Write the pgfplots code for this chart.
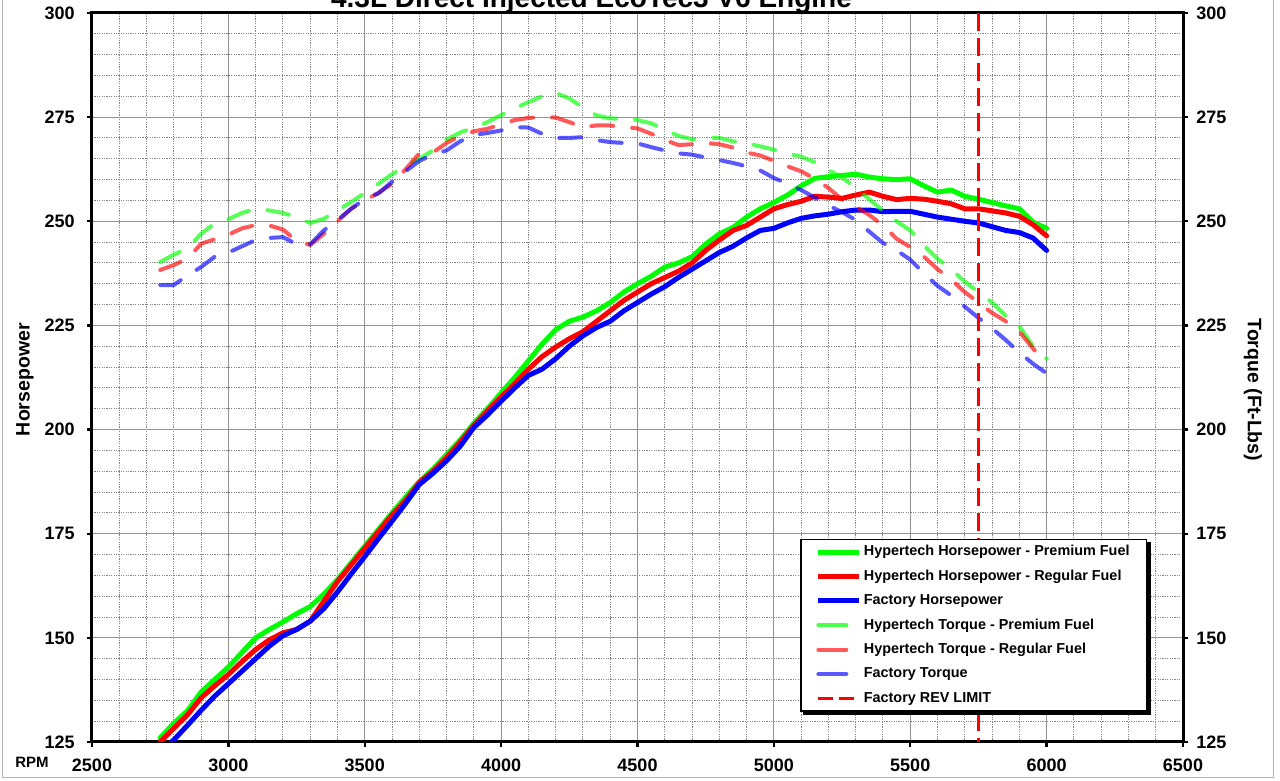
\documentclass[border=0pt]{standalone}
\usepackage{fontspec}
\setmainfont{Liberation Sans}
\usepackage{pgfplots}
\usepackage{pgfplotstable}
\pgfplotsset{compat=1.18}

\definecolor{hpgreen}{RGB}{0,255,0}
\definecolor{hpred}{RGB}{255,0,0}
\definecolor{hpblue}{RGB}{0,0,255}

\pgfplotstableread{
rpm gh rh bh gt rt bt
2750 126 125 122.8 240.2 238.3 234.7
2800 129.5 128.3 125.5 242 239.5 234.7
2850 132.5 131.5 129 243.5 241 237
2900 137 135.6 132.6 247 244.6 239
2950 140 138.5 136 249.5 245.7 241.5
3000 143 141.2 139 250.5 246.8 242.5
3050 146.5 144.3 142 252 248.3 244
3100 150 147.2 145 253 249.1 245.5
3150 152 149.5 148 252.6 249 246
3200 153.8 151.2 150.5 252 248 246.2
3250 155.8 152 152 251 245.3 244.5
3300 157.5 154 154 249.6 244.3 244.5
3350 160.5 158.8 157 250.6 247 247.8
3400 164 163.5 161 252.6 250 250.3
3450 168 167.5 165.3 254.6 253 253
3500 172 171.5 169.5 256.8 255 255.3
3550 176 175.5 173.8 259 256.8 256.7
3600 180 179.5 178 261.3 259 259.5
3650 183.8 183 182.3 263.2 262.5 262
3700 187.5 187.3 186.8 265 266.3 264.5
3750 190.5 190 189.5 267 266.5 266
3800 194 193.3 192.5 269.6 268.8 267
3850 197.5 197 196 271.3 270.5 269.2
3900 201.5 201 200.5 272.5 271.6 270.7
3950 205 204.5 203.5 273.8 272.2 271.2
4000 208.8 207.8 206.8 275.5 273.3 271.8
4050 212.5 211 210 277.1 274.3 272.6
4100 216.5 214.5 213 278.6 274.8 272.5
4150 220.5 217.5 214.5 280 275 271
4200 224 219.8 217 280.8 274.9 270
4250 226 221.8 220 279.5 273.8 270
4300 227 223.5 222.5 277.3 272.6 270.2
4350 228.5 226 224.5 275.4 273 269.5
4400 230.5 228.5 226 274.7 273 269
4450 233 231 228.5 274.6 272.6 268.8
4500 235 233 230.5 274.3 272.3 268.7
4550 236.8 235 232.5 273.5 271 267.8
4600 239 236.5 234.3 272 269.5 267
4650 240 238 236.5 270.5 268.3 266.3
4700 241.5 240 238.5 269.7 268.5 266
4750 244.5 243 240.5 270 268.8 265.3
4800 247 245.5 242.5 270 268.5 264.7
4850 248.5 247.8 244 269.2 267.7 264
4900 251 249 246 268.7 266.5 263.2
4950 253 251 247.8 268 265.8 262.2
5000 254.5 253 248.3 267.2 264.5 260.4
5050 256.3 254 249.6 266.3 263.2 259
5100 258.5 254.8 250.7 265.5 262 257.5
5150 260.3 256 251.3 264.2 260.2 255.7
5200 260.7 255.8 251.7 262.3 258 253.8
5250 261 255.5 252.3 260.5 255.2 252.2
5300 261.3 256.3 252.7 258 253.5 250.3
5350 260.6 257 252.7 255.3 251.5 247.5
5400 260.2 256 252.3 252.5 249 244.8
5450 260 255.2 252.4 250 245.8 243
5500 260.2 255.5 252.4 247.8 243.8 240.8
5550 258.5 255.3 251.7 244.2 241.5 237.5
5600 257 254.8 251 241 238.5 234.5
5650 257.5 254.2 250.5 238.5 236 232.2
5700 256 253 250 235.5 233 229.5
5750 255.3 253 249.6 233 230.5 226.8
5800 254.5 252.5 248.7 230.5 228 224.3
5850 253.7 252 247.8 227.3 226 221.5
5900 253 251.2 247.3 224.8 223.5 218.5
5950 249.8 249.2 246 220 219.5 215.8
6000 248.3 246.5 243 217 215.5 213.5
}\engine

\pgfplotsset{
  hpleg/.style={legend image code/.code={\draw[##1] (0pt,0pt) -- (20.5pt,0pt);}},
  tqleg/.style={legend image code/.code={\draw[##1] (0pt,0pt) -- (14pt,0pt);}},
  revleg/.style={legend image code/.code={\draw[##1] (0pt,0pt) -- (18.5pt,0pt);}},
  hpline/.style={line width=2.5pt, line cap=round, line join=round},
  tqline/.style={line width=2pt, line cap=round, line join=round, dash pattern=on 11pt off 9.5pt, draw opacity=0.65},
}

\begin{document}
\begin{tikzpicture}
\path[use as bounding box] (-46pt,-19.5pt) rectangle (594pt,371pt);
\draw[gray!60, line width=0.5pt] (-44.5pt,-18pt) rectangle (590.5pt,390pt);
\begin{axis}[
  at={(0pt,0pt)}, anchor=south west,
  scale only axis, width=545.5pt, height=364.5pt,
  xmin=2500, xmax=6500, ymin=125, ymax=300,
  xtick={2500,3000,...,6500}, ytick={125,150,...,300},
  minor x tick num=4, minor y tick num=4,
  grid=both,
  major grid style={draw=gray!85, line width=0.55pt},
  minor grid style={draw=gray!95, line width=0.5pt, dash pattern=on 0.6pt off 0.6pt},
  axis line style={line width=1.5pt, black},
  tick align=outside, major tick length=2.5pt, minor tick length=0pt,
  xtick pos=left, ytick pos=left,
  major tick style={line width=1.2pt, black},
  /pgf/number format/assume math mode=true,
  /pgf/number format/1000 sep={},
  xticklabel style={font=\bfseries\fontsize{9}{10}\selectfont, anchor=north, inner sep=0pt, yshift=-5.75pt},
  yticklabel style={font=\bfseries\fontsize{9}{10}\selectfont, anchor=east, inner sep=0pt, xshift=-6pt},
  ylabel={Horsepower},
  every axis y label/.style={at={(axis description cs:-0.0614,0.497)}, rotate=90, anchor=center, font=\bfseries\fontsize{9.75}{11}\selectfont},
  legend cell align=left,
  legend style={name=leg, at={(0.649,0.0412)}, anchor=south west, draw=black, line width=0.8pt, fill=white,
    font=\bfseries\fontsize{7.2}{8}\selectfont,
    inner xsep=7.5pt, inner ysep=2pt, row sep=3.5pt,
    nodes={inner sep=1pt, text height=5.3pt, text depth=1.4pt}},
]
\addplot[hpline, color=hpgreen, forget plot] table[x=rpm, y=gh] {\engine};
\addplot[hpline, color=hpred, forget plot] table[x=rpm, y=rh] {\engine};
\addplot[hpline, color=hpblue, forget plot] table[x=rpm, y=bh] {\engine};
\addplot[tqline, color=hpgreen, forget plot] table[x=rpm, y=gt] {\engine};
\addplot[tqline, color=hpred, forget plot] table[x=rpm, y=rt] {\engine};
\addplot[tqline, color=hpblue, forget plot] table[x=rpm, y=bt] {\engine};
\addplot[color=hpred, line width=1.5pt, dash pattern=on 9pt off 3.5pt, forget plot] coordinates {(5750,300) (5750,125)};

\addlegendimage{hpgreen, line width=2.5pt, hpleg}
\addlegendentry{Hypertech Horsepower - Premium Fuel}
\addlegendimage{hpred, line width=2.5pt, hpleg}
\addlegendentry{Hypertech Horsepower - Regular Fuel}
\addlegendimage{hpblue, line width=2.5pt, hpleg}
\addlegendentry{Factory Horsepower}
\addlegendimage{hpgreen, line width=2pt, line cap=round, draw opacity=0.7, tqleg}
\addlegendentry{Hypertech Torque - Premium Fuel}
\addlegendimage{hpred, line width=2pt, line cap=round, draw opacity=0.65, tqleg}
\addlegendentry{Hypertech Torque - Regular Fuel}
\addlegendimage{hpblue, line width=2pt, line cap=round, draw opacity=0.65, tqleg}
\addlegendentry{Factory Torque}
\addlegendimage{hpred, line width=1.5pt, dash pattern=on 7.5pt off 3pt, revleg}
\addlegendentry{Factory REV LIMIT}
\end{axis}
\fill[black] ([shift={(0pt,-1.6pt)}]leg.north east) rectangle ([shift={(1.6pt,-1.6pt)}]leg.south east);
\fill[black] ([shift={(1.6pt,0pt)}]leg.south west) rectangle ([shift={(1.6pt,-1.6pt)}]leg.south east);
\begin{axis}[
  at={(0pt,0pt)}, anchor=south west,
  scale only axis, width=545.5pt, height=364.5pt,
  xmin=2500, xmax=6500, ymin=125, ymax=300,
  axis x line=none, axis y line*=right,
  ytick={125,150,...,300},
  axis line style={line width=1.5pt, black},
  tick align=outside, major tick length=2.5pt,
  major tick style={line width=1.2pt, black},
  /pgf/number format/assume math mode=true,
  yticklabel style={font=\bfseries\fontsize{9}{10}\selectfont, anchor=west, inner sep=0pt, xshift=4pt},
  ylabel={Torque (Ft-Lbs)},
  every axis y label/.style={at={(axis description cs:1.0642,0.483)}, rotate=-90, anchor=center, font=\bfseries\fontsize{9.75}{11}\selectfont},
]
\addplot[draw=none] coordinates {(3000,200)};
\end{axis}
\node[anchor=base, font=\bfseries\fontsize{14}{16}\selectfont] at (249.75pt,367pt) {4.3L Direct Injected EcoTec3 V6 Engine};
\node[font=\bfseries\fontsize{7.5}{9}\selectfont] at (-30pt,-10pt) {RPM};
\end{tikzpicture}
\end{document}
